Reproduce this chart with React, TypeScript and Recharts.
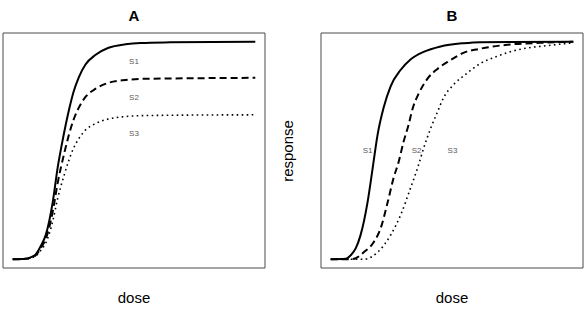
import React from 'react';
import { LineChart, Line, XAxis, YAxis, ReferenceArea, ReferenceDot } from 'recharts';

// Panel A: common dose grid, three curves with different maximal responses
const doseA = [0, 5.3, 7.4, 9.5, 11.5, 13.6, 16.5, 18.5, 21.0, 23.0, 25.1, 27.2, 30.0, 34.2, 39.5, 46.5, 52.7, 65.0, 100];
const aS1 = [0, 0.2, 0.9, 2.3, 6.0, 11.1, 26.3, 41.9, 57.1, 67.7, 77.0, 83.5, 89.5, 94.0, 97.2, 98.8, 99.4, 99.7, 100];
const aS2 = [0, 0.2, 0.8, 1.9, 5.0, 9.3, 21.9, 34.9, 47.6, 56.5, 64.2, 69.6, 74.6, 78.4, 81.1, 82.4, 82.9, 83.1, 83.4];
const aS3 = [0, 0.1, 0.6, 1.5, 4.0, 7.4, 17.5, 27.8, 37.9, 45.0, 51.1, 55.4, 59.4, 62.4, 64.5, 65.6, 66.0, 66.2, 66.4];

// Panel B: three curves with different potencies / slopes
const doseB1 = [0, 6.2, 8.2, 10.3, 12.3, 15.2, 17.3, 19.3, 21.8, 24.7, 28.8, 32.9, 38.3, 45.3, 54.7, 61.7, 100];
const bS1 = [0, 0.2, 1.8, 5.0, 11.1, 26.3, 41.9, 57.1, 69.6, 79.5, 87.0, 91.8, 95.3, 97.8, 99.3, 99.8, 100];
const doseB2 = [0, 8.2, 10.3, 13.6, 17.7, 20.6, 23.5, 25.9, 28.0, 30.0, 32.1, 33.7, 36.2, 39.9, 44.0, 49.4, 54.7, 61.7, 72.8, 86.4, 100];
const bS2 = [0, 0, 0.5, 3.2, 7.8, 14.3, 26.3, 37.3, 44.7, 53.9, 61.8, 69.0, 76.0, 83.0, 87.5, 91.5, 94.9, 96.8, 98.6, 99.5, 100];
const doseB3 = [0, 8.2, 13.6, 19.3, 24.7, 28.8, 32.9, 35.8, 38.3, 41.2, 44.0, 46.5, 50.6, 55.6, 61.7, 67.9, 72.8, 79.4, 89.3, 100];
const bS3 = [0, 0, 0, 3.2, 11.1, 20.3, 32.7, 41.9, 51.0, 60.2, 67.7, 74.2, 80.2, 85.0, 90.0, 93.0, 95.0, 96.8, 98.2, 99.5];

const seriesNames = ['S1', 'S2', 'S3'];
const panelTitles = ['A', 'B'];
const xLabel = 'dose';
const yLabel = 'response';

const toPoints = (xs: number[], ys: number[]) => xs.map((x, i) => ({ x, y: ys[i] }));

const DOMAIN: [number, number] = [-4, 104];
const FONT = 'Liberation Sans, Arial, Helvetica, sans-serif';

const lineStyles = [
  { strokeWidth: 2, strokeDasharray: undefined as string | undefined },
  { strokeWidth: 2, strokeDasharray: '7 4' },
  { strokeWidth: 1.6, strokeDasharray: '1.6 3.4' },
];

type Series = { name: string; pts: { x: number; y: number }[] };

function SeriesLabel(props: any) {
  const vb = props.viewBox || {};
  const cx = (vb.x ?? 0) + (vb.width ?? 0) / 2;
  const cy = (vb.y ?? 0) + (vb.height ?? 0) / 2;
  return (
    <text x={cx} y={cy} dy="0.35em" textAnchor="middle" fill="#5a5a5a" fontSize={8} fontFamily={FONT}>
      {props.text}
    </text>
  );
}

function Panel({ left, series, labels }: { left: number; series: Series[]; labels: { x: number; y: number; text: string }[] }) {
  return (
    <div style={{ position: 'absolute', left, top: 31 }}>
      <LineChart width={266} height={239} margin={{ top: 2, right: 2, bottom: 2, left: 2 }}>
        <XAxis type="number" dataKey="x" domain={DOMAIN} hide allowDataOverflow />
        <YAxis type="number" dataKey="y" domain={DOMAIN} hide allowDataOverflow />
        <ReferenceArea x1={DOMAIN[0]} x2={DOMAIN[1]} y1={DOMAIN[0]} y2={DOMAIN[1]} fill="none" stroke="#4a4a4a" strokeWidth={1} fillOpacity={0} />
        {series.map((s, i) => (
          <Line
            key={s.name}
            data={s.pts}
            dataKey="y"
            type="monotone"
            stroke="#000"
            strokeWidth={lineStyles[i].strokeWidth}
            strokeDasharray={lineStyles[i].strokeDasharray}
            dot={false}
            activeDot={false}
            isAnimationActive={false}
          />
        ))}
        {labels.map((l) => (
          <ReferenceDot
            key={l.text}
            x={l.x}
            y={l.y}
            r={0}
            fill="none"
            stroke="none"
            label={<SeriesLabel text={l.text} />}
          />
        ))}
      </LineChart>
    </div>
  );
}

export default function App() {
  const seriesA: Series[] = [
    { name: seriesNames[0], pts: toPoints(doseA, aS1) },
    { name: seriesNames[1], pts: toPoints(doseA, aS2) },
    { name: seriesNames[2], pts: toPoints(doseA, aS3) },
  ];
  const seriesB: Series[] = [
    { name: seriesNames[0], pts: toPoints(doseB1, bS1) },
    { name: seriesNames[1], pts: toPoints(doseB2, bS2) },
    { name: seriesNames[2], pts: toPoints(doseB3, bS3) },
  ];
  const labelsA = [
    { x: 50, y: 91, text: seriesNames[0] },
    { x: 50, y: 74.5, text: seriesNames[1] },
    { x: 50, y: 58, text: seriesNames[2] },
  ];
  const labelsB = [
    { x: 15.2, y: 50, text: seriesNames[0] },
    { x: 35.4, y: 50, text: seriesNames[1] },
    { x: 50.2, y: 50, text: seriesNames[2] },
  ];
  return (
    <div style={{ position: 'absolute', left: 0, top: 0, width: 585, height: 311, background: '#fff', overflow: 'hidden' }}>
      <Panel left={1} series={seriesA} labels={labelsA} />
      <Panel left={319} series={seriesB} labels={labelsB} />
      <svg width={585} height={311} style={{ position: 'absolute', left: 0, top: 0, pointerEvents: 'none' }}>
        <text x={134} y={21} textAnchor="middle" fontFamily={FONT} fontWeight="bold" fontSize={15} fill="#000">{panelTitles[0]}</text>
        <text x={452} y={21} textAnchor="middle" fontFamily={FONT} fontWeight="bold" fontSize={15} fill="#000">{panelTitles[1]}</text>
        <text x={134} y={303} textAnchor="middle" fontFamily={FONT} fontSize={15} fill="#000">{xLabel}</text>
        <text x={452} y={303} textAnchor="middle" fontFamily={FONT} fontSize={15} fill="#000">{xLabel}</text>
        <text x={0} y={0} transform="translate(293,151) rotate(-90)" textAnchor="middle" fontFamily={FONT} fontSize={15} fill="#000">{yLabel}</text>
      </svg>
    </div>
  );
}
